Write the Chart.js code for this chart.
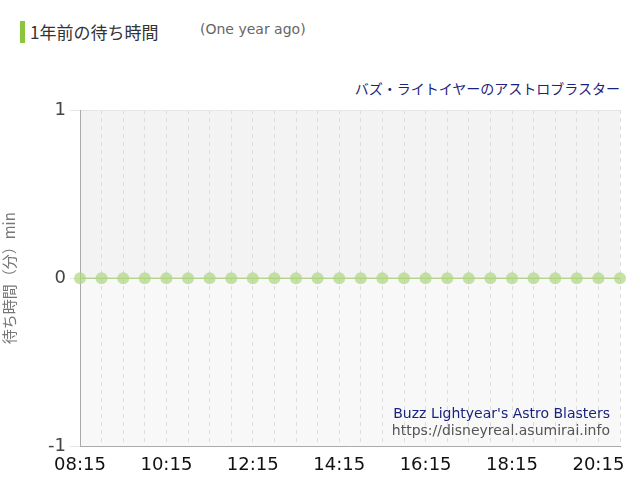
<!DOCTYPE html>
<html>
<head>
<meta charset="utf-8">
<script src="https://cdn.jsdelivr.net/npm/chart.js@4"></script>
<style>
body { margin:0; width:640px; height:500px; position:relative; font-family:"Noto Sans CJK JP","DejaVu Sans",sans-serif; background:#fff; }
#wrap { position:absolute; left:0; top:0; width:640px; height:500px; }
.abs { position:absolute; white-space:nowrap; }
</style>
</head>
<body>
<div class="abs" style="left:20px;top:21px;width:5px;height:22px;background:#8cc63f"></div>
<div class="abs" style="left:30px;top:19px;font-size:17px;color:#333">1年前の待ち時間</div>
<div class="abs" style="left:200px;top:21px;font-size:14px;color:#666;font-family:'DejaVu Sans'">(One year ago)</div>
<div class="abs" style="right:20px;top:78px;font-size:14px;color:#1a237e">バズ・ライトイヤーのアストロブラスター</div>
<div id="wrap"><canvas id="c" width="640" height="500"></canvas></div>
<div class="abs" style="right:30px;top:405px;font-size:14px;color:#1a237e;font-family:'DejaVu Sans'">Buzz Lightyear's Astro Blasters</div>
<div class="abs" style="right:30px;top:422px;font-size:14px;color:#555;font-family:'DejaVu Sans'">https://disneyreal.asumirai.info</div>
<script>
let times = ["08:15","08:45","09:15","09:45","10:15","10:45","11:15","11:45","12:15","12:45","13:15","13:45",
  "14:15","14:45","15:15","15:45","16:15","16:45","17:15","17:45","18:15","18:45","19:15","19:45","20:15","20:45"];
let waits = [0,0,0,0,0,0,0,0,0,0,0,0,0,0,0,0,0,0,0,0,0,0,0,0,0,0];
let yTicks = [1,0,-1];

let bands = {
  id: "bands",
  beforeDraw(chart) {
    let a = chart.chartArea, ctx = chart.ctx;
    let mid = chart.scales.y.getPixelForValue(0);
    ctx.save();
    ctx.fillStyle = "#f3f3f3";
    ctx.fillRect(a.left, a.top, a.right - a.left, mid - a.top);
    ctx.fillStyle = "#f8f8f8";
    ctx.fillRect(a.left, mid, a.right - a.left, a.bottom - mid);
    ctx.restore();
  }
};

new Chart(document.getElementById("c"), {
  type: "line",
  data: {
    labels: times,
    datasets: [{
      data: waits,
      borderColor: "#9ccc65",
      borderWidth: 1,
      backgroundColor: "rgba(174,213,129,0.7)",
      pointBackgroundColor: "rgba(174,213,129,0.7)",
      pointBorderWidth: 0,
      pointRadius: 6,
      fill: false
    }]
  },
  options: {
    responsive: false,
    animation: false,
    layout: { padding: { top: 110, right: 20, left: 0, bottom: 16 } },
    plugins: { legend: { display: false }, tooltip: { enabled: false } },
    scales: {
      x: {
        offset: false,
        grid: { color: "#dddddd", borderDash: [4, 4], drawTicks: false },
        border: { color: "#aaaaaa", dash: [4, 4] },
        ticks: {
          autoSkip: false, maxRotation: 0, color: "#111", font: { size: 18, family: "DejaVu Sans" }, padding: 8,
          callback: function (v, i) { return i % 4 === 0 ? times[i] : ""; }
        }
      },
      y: {
        min: -1, max: 1,
        afterFit: function (s) { s.width = 80; },
        afterBuildTicks: function (s) { s.ticks = yTicks.map(v => ({ value: v })); },
        grid: { color: "#e6e6e6", drawTicks: true, tickLength: 10 },
        border: { color: "#aaaaaa" },
        ticks: { color: "#444", font: { size: 18, family: "DejaVu Sans" }, padding: 4 },
        title: { display: true, text: "待ち時間（分）min", color: "#777", font: { size: 15, family: "Noto Sans CJK JP" }, padding: { top: 0, bottom: 20 } }
      }
    }
  },
  plugins: [bands]
});
</script>
</body>
</html>
